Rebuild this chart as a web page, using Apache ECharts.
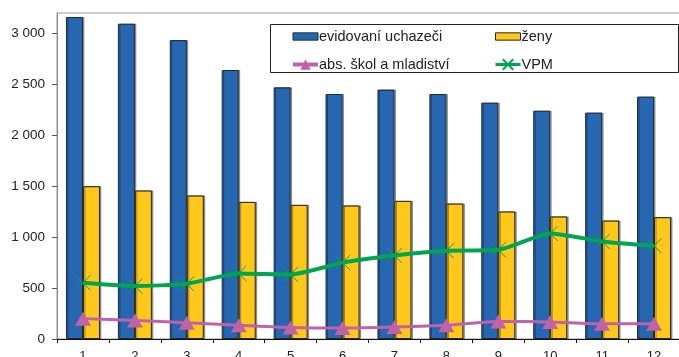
<!DOCTYPE html>
<html><head><meta charset="utf-8">
<script src="https://cdn.jsdelivr.net/npm/echarts@6/dist/echarts.min.js"></script>
<style>html,body{margin:0;padding:0;background:#fff}#c{width:679px;height:357px}</style>
</head><body><div id="c"></div>
<script>
var categories = ['1','2','3','4','5','6','7','8','9','10','11','12'];
var uchazeci = [3160, 3095, 2934, 2640, 2470, 2405, 2448, 2405, 2320, 2241, 2222, 2379];
var zeny = [1500, 1458, 1409, 1346, 1317, 1311, 1356, 1330, 1252, 1203, 1163, 1196];
var absolventi = [200, 182, 160, 136, 112, 107, 117, 134, 173, 167, 150, 150];
var vpm = [552, 520, 542, 644, 634, 750, 820, 866, 876, 1036, 958, 915];
var yTicks = [0, 500, 1000, 1500, 2000, 2500, 3000];
var names = ['evidovaní uchazeči', 'ženy', 'abs. škol a mladiství', 'VPM'];

var chart = echarts.init(document.getElementById('c'));
var font = 'Liberation Sans, Arial, sans-serif';
var xPath = 'path://M0,0L10,10M10,0L0,10';
var barIcon = 'path://M0,0h24v7h-24z';
var blue = '#2767b2', yellow = '#ffc81a', pink = '#c062aa', green = '#00a550';
var legText = {fontFamily: font, fontSize: 14.5, color: '#222', padding: [0, 0, 0, -4]};
chart.setOption({
  animation: false,
  textStyle: {fontFamily: font},
  grid: {left: 57, right: -1, top: 13, bottom: 18, outerBoundsMode: 'none', containLabel: false,
         show: true, borderColor: '#9a9a9a', borderWidth: 1},
  graphic: [{type: 'rect', left: 270, top: 24, shape: {width: 408, height: 48}, style: {fill: '#fff', stroke: '#222', lineWidth: 1}, z: 5}],
  legend: [
    {data: [
       {name: names[0], icon: barIcon, itemStyle: {color: blue, borderColor: '#1f2a3a', borderWidth: 1}},
       {name: names[2], lineStyle: {color: pink, width: 4}, itemStyle: {color: pink}}
     ], orient: 'vertical', left: 291, top: 29, padding: 0, itemGap: 13, itemWidth: 25, itemHeight: 13, z: 10, textStyle: legText},
    {data: [
       {name: names[1], icon: barIcon, itemStyle: {color: yellow, borderColor: '#2a2410', borderWidth: 1}},
       {name: names[3], lineStyle: {color: green, width: 3}}
     ], orient: 'vertical', left: 494, top: 29, padding: 0, itemGap: 13, itemWidth: 25, itemHeight: 13, z: 10, textStyle: legText}
  ],
  xAxis: {type: 'category', data: categories, boundaryGap: true,
    axisLine: {lineStyle: {color: '#111', width: 1}},
    axisTick: {show: true, inside: false, length: 4, lineStyle: {color: '#111'}},
    axisLabel: {fontSize: 13, color: '#222', margin: 11, fontFamily: font}},
  yAxis: {type: 'value', min: 0, max: 3200, interval: 500,
    axisLine: {show: true, lineStyle: {color: '#888'}},
    axisTick: {show: true, length: 5, lineStyle: {color: '#555'}, customValues: yTicks},
    axisLabel: {fontSize: 13.5, color: '#222', margin: 12, fontFamily: font, customValues: yTicks,
      formatter: function (v) { return v >= 1000 ? Math.floor(v / 1000) + ' ' + String(v % 1000).padStart(3, '0') : String(v); }},
    splitLine: {show: false}},
  series: [
    {name: names[0], type: 'bar', data: uchazeci, barWidth: 17, barGap: '0%',
     itemStyle: {color: blue, borderColor: '#1f2a3a', borderWidth: 1, shadowColor: 'rgba(0,0,0,0.35)', shadowOffsetX: 1.5, shadowOffsetY: 0}},
    {name: names[1], type: 'bar', data: zeny, barWidth: 17,
     itemStyle: {color: yellow, borderColor: '#2a2410', borderWidth: 1, shadowColor: 'rgba(0,0,0,0.35)', shadowOffsetX: 1.5, shadowOffsetY: 0}},
    {name: names[2], type: 'line', data: absolventi, smooth: 0.2, symbol: 'triangle', symbolSize: [16, 14],
     lineStyle: {color: pink, width: 3}, itemStyle: {color: pink}, z: 4},
    {name: names[3], type: 'line', data: vpm, smooth: 0.2, symbol: xPath, symbolSize: 15,
     lineStyle: {color: green, width: 4}, itemStyle: {color: 'rgba(0,0,0,0)', borderColor: green, borderWidth: 1}, z: 4}
  ]
});
</script></body></html>
